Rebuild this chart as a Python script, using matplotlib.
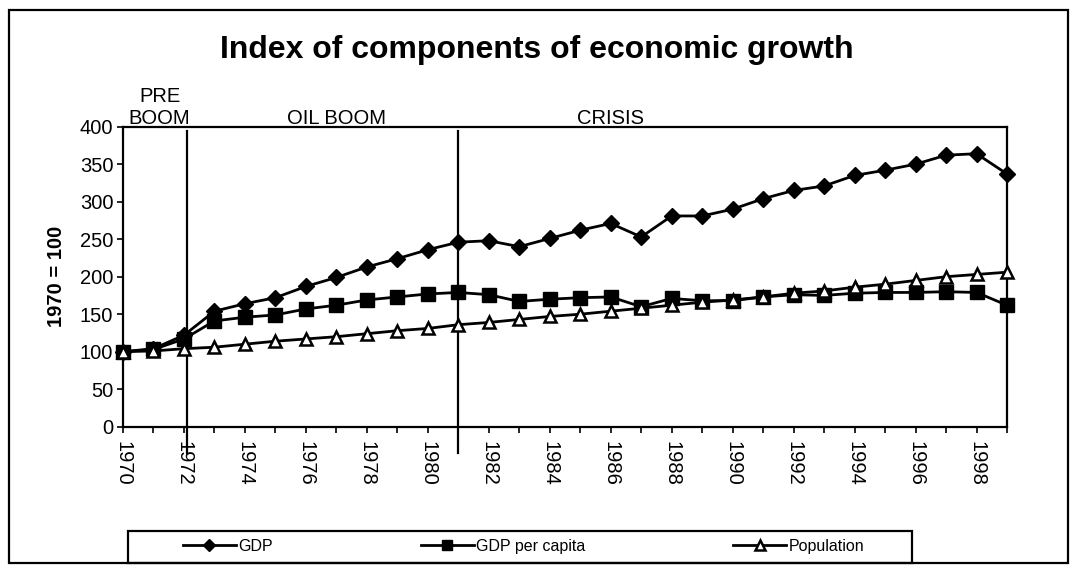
import matplotlib
matplotlib.use("Agg")
import matplotlib.pyplot as plt
from matplotlib.patches import Rectangle

plt.rcParams['font.family'] = ['Liberation Sans', 'DejaVu Sans']

years = list(range(1970, 2000))
gdp = [100, 104, 122, 154, 164, 172, 187, 199, 213, 224, 236, 246, 248, 240, 251,
       262, 271, 253, 281, 281, 290, 304, 315, 321, 335, 342, 350, 362, 364, 337]
gdp_per_capita = [100, 103, 117, 141, 146, 149, 157, 162, 169, 173, 177, 179, 176, 167, 170,
                  172, 173, 160, 171, 168, 168, 173, 176, 175, 178, 179, 179, 180, 179, 162]
population = [100, 101, 104, 106, 110, 114, 117, 120, 124, 128, 131, 136, 139, 143, 147,
              150, 154, 158, 162, 166, 169, 173, 178, 181, 186, 190, 195, 200, 203, 206]
tick_years = list(range(1970, 2000, 2))
phase_breaks = [1972.1, 1981.0]
phase_labels = ["PRE\nBOOM", "OIL BOOM", "CRISIS"]
phase_label_x = [1971.2, 1977.0, 1986.0]

fig = plt.figure(figsize=(10.74, 5.71), dpi=100)
ax = fig.add_axes([123/1074, 1 - 426.7/571, (1007 - 123)/1074, 300/571])

ax.plot(years, gdp, color='black', lw=2, marker='D', ms=8, mfc='black', mec='black', label='GDP', clip_on=False, zorder=3)
ax.plot(years, gdp_per_capita, color='black', lw=2, marker='s', ms=9.5, mfc='black', mec='black', label='GDP per capita', clip_on=False, zorder=4)
ax.plot(years, population, color='black', lw=2, marker='^', ms=8.5, mfc='white', mec='black', mew=1.8, label='Population', clip_on=False, zorder=5)

ax.set_xlim(1970, 1999)
ax.set_ylim(0, 400)
ax.set_yticks(range(0, 401, 50))
ax.set_xticks(years, minor=False)
ax.set_xticklabels([str(y) if y in tick_years else '' for y in years], rotation=-90, fontsize=14.5)
ax.tick_params(axis='y', labelsize=14.5, direction='out', length=4, width=1.2, pad=3)
ax.tick_params(axis='x', direction='out', length=4, width=1.2, pad=6)
for s in ax.spines.values():
    s.set_linewidth(1.6)
ax.set_ylabel('1970 = 100', fontsize=14.5, fontweight='bold', labelpad=10)

for xb in phase_breaks:
    ax.plot([xb, xb], [394, -35], color='black', lw=1.6, clip_on=False, zorder=2)

for lbl, xl in zip(phase_labels, phase_label_x):
    ax.text(xl, 398, lbl, ha='center', va='bottom', fontsize=14.5, linespacing=1.2)

fig.text(0.5, 1 - 50/571, 'Index of components of economic growth', ha='center', va='center',
         fontsize=23, fontweight='bold')

# outer border
fig.patches.append(Rectangle((9/1074, 8/571), (1068 - 9)/1074, (561 - 8)/571, transform=fig.transFigure,
                             fill=False, edgecolor='black', lw=1.6))
# legend box
fig.patches.append(Rectangle((128/1074, 8/571), (912 - 128)/1074, (563 - 531)/571, transform=fig.transFigure,
                             fill=False, edgecolor='black', lw=1.6))
leg = fig.legend(loc='center', bbox_to_anchor=(183/1074, 10/571, (864 - 183)/1074, 29/571),
                 ncol=3, mode='expand', frameon=False, fontsize=11.5, handlelength=3.3,
                 handletextpad=0.15, markerscale=0.8, borderaxespad=0, borderpad=0)

fig.savefig('out.png', dpi=100)
